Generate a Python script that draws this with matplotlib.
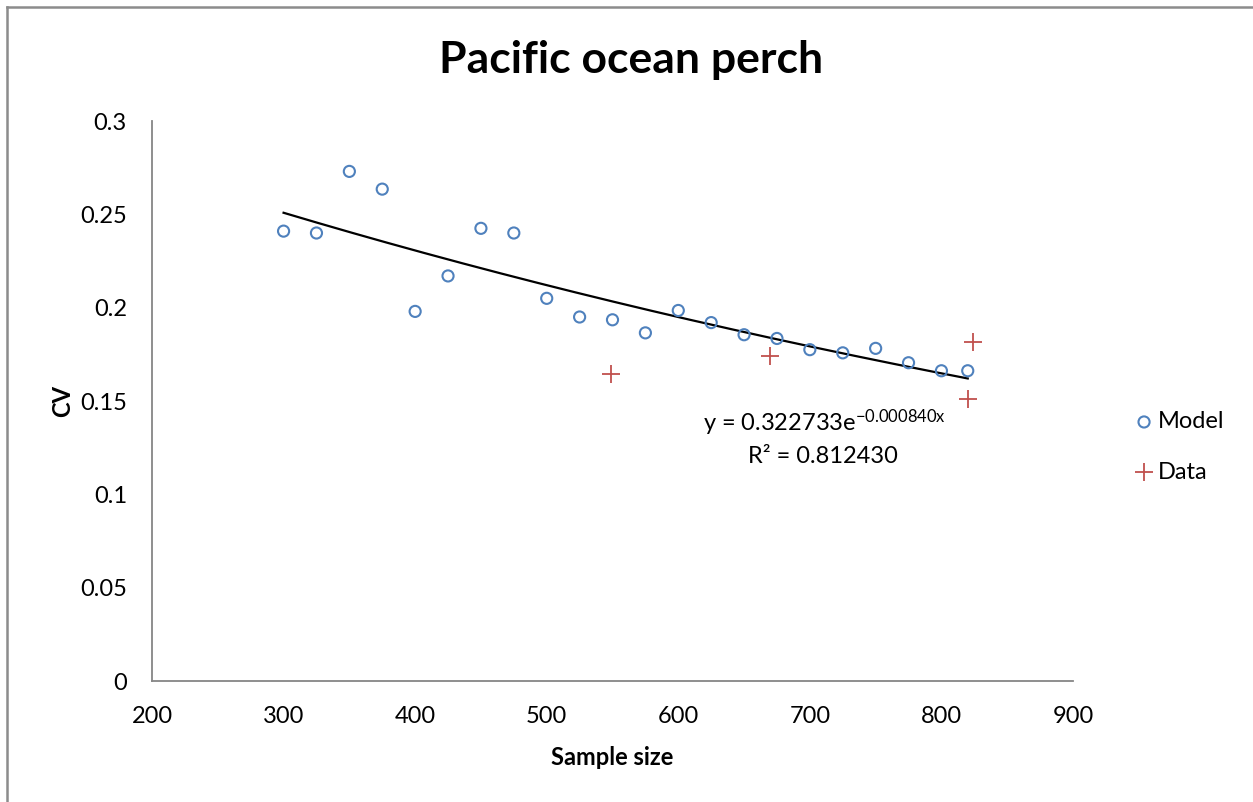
import numpy as np
import matplotlib
matplotlib.use("Agg")
import matplotlib.pyplot as plt
from matplotlib.lines import Line2D

model_x = [300, 325, 350, 375, 400, 425, 450, 475, 500, 525, 550, 575, 600,
           625, 650, 675, 700, 725, 750, 775, 800, 820]
model_y = [0.241, 0.240, 0.273, 0.2635, 0.198, 0.217, 0.2425, 0.240, 0.205,
           0.195, 0.1935, 0.1865, 0.1985, 0.192, 0.1855, 0.1835, 0.1775,
           0.1758, 0.1782, 0.1705, 0.1662, 0.1662]
data_x = [549, 670, 820, 824]
data_y = [0.1645, 0.1741, 0.1511, 0.1815]
trend_a = 0.322733
trend_b = -0.000840
trend_r2 = 0.812430
xticks = [200, 300, 400, 500, 600, 700, 800, 900]
yticks = [0, 0.05, 0.1, 0.15, 0.2, 0.25, 0.3]
ytick_labels = ["0", "0.05", "0.1", "0.15", "0.2", "0.25", "0.3"]

plt.rcParams['font.family'] = ['Lato', 'DejaVu Sans']
plt.rcParams['mathtext.fontset'] = 'custom'
plt.rcParams['mathtext.rm'] = 'Lato'
plt.rcParams['mathtext.default'] = 'regular'

fig = plt.figure(figsize=(12.53, 8.02), dpi=100)
ax = fig.add_axes([152/1253, 1-681/802, (1073-152)/1253, (681-121)/802])

ax.scatter(model_x, model_y, s=64, facecolors='none', edgecolors='#4F81BD',
           linewidths=1.5, label='Model', zorder=3)
ax.scatter(data_x, data_y, s=170, marker='+', color='#C0504D',
           linewidths=1.3, label='Data', zorder=3)

tx = np.linspace(min(model_x), max(model_x), 200)
ax.plot(tx, trend_a*np.exp(trend_b*tx), color='black', lw=1.6, zorder=2)

ax.set_xlim(200, 900)
ax.set_ylim(0, 0.3)
ax.set_xticks(xticks)
ax.set_yticks(yticks)
ax.set_yticklabels(ytick_labels)
ax.tick_params(length=0, labelsize=17)
ax.tick_params(axis='x', pad=18)
ax.tick_params(axis='y', pad=18)
for s in ['top', 'right']:
    ax.spines[s].set_visible(False)
for s in ['left', 'bottom']:
    ax.spines[s].set_color('#868686')
    ax.spines[s].set_linewidth(1.3)

ax.set_xlabel('Sample size', fontsize=17, fontweight='bold', labelpad=14)
ax.set_ylabel('CV', fontsize=17, fontweight='bold', labelpad=4)
fig.text(631/1253, 1-60/802, 'Pacific ocean perch', ha='center', va='center',
         fontsize=32, fontweight='bold')

ax.text(711, 0.1382, r'y = 0.322733e$^{-0.000840x}$', ha='center',
        va='center', fontsize=17)
ax.text(710, 0.1205, 'R² = %.6f' % trend_r2, ha='center', va='center', fontsize=17)

leg = ax.legend(loc='center left', bbox_to_anchor=(1.0515, 0.418), frameon=False,
                fontsize=17, handletextpad=0.1, labelspacing=1.25,
                handlelength=1.0, borderpad=0)

fig.add_artist(Line2D([7/1253, 7/1253], [0, 1-7/802], color='#8c8c8c', lw=1.8,
                      transform=fig.transFigure))
fig.add_artist(Line2D([7/1253, 1], [1-7/802, 1-7/802], color='#8c8c8c', lw=1.8,
                      transform=fig.transFigure))

fig.savefig('out.png', dpi=100)
